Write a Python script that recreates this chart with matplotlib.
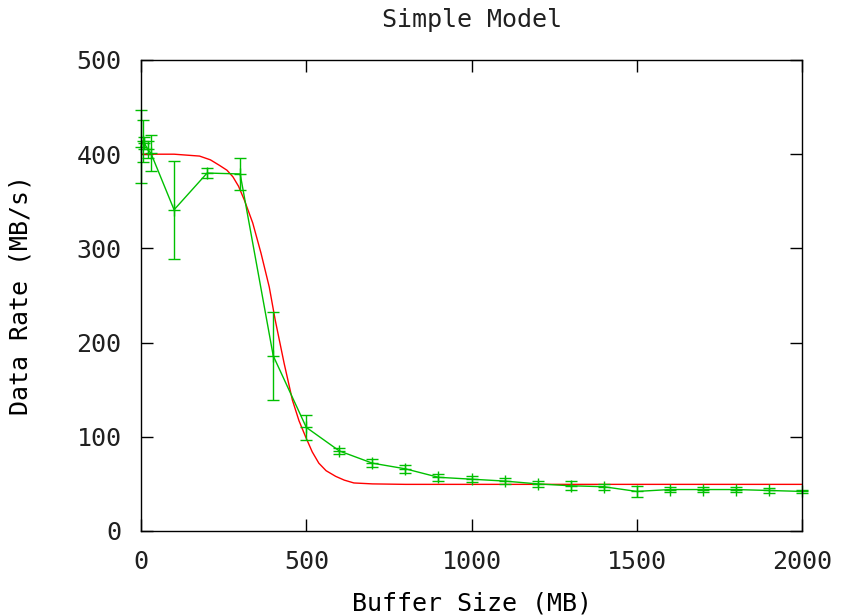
import numpy as np
import matplotlib
matplotlib.use('Agg')
import matplotlib.pyplot as plt

# measured data (green, with error bars)
buf_size = [0, 5, 10, 20, 30, 100, 200, 300, 400, 500, 600, 700, 800, 900,
            1000, 1100, 1200, 1300, 1400, 1500, 1600, 1700, 1800, 1900, 2000]
rate = [408, 414, 412, 405, 401, 341, 380, 379, 186, 110, 85, 72, 66, 57,
        55, 53, 50, 48, 47, 42, 44, 44, 44, 43, 42]
rate_err = [39, 22, 6, 9, 19, 52, 5, 17, 47, 13, 3, 4, 4, 4,
            3, 3, 3, 5, 3, 6, 3, 3, 3, 3, 2]

# model curve (red)
model_x = [0, 100, 177, 210, 238, 260, 278, 295, 313, 338, 363, 388, 406,
           433, 458, 478, 498, 518, 538, 560, 589, 615, 644, 700, 800, 2000]
model_y = [400, 400, 398, 394, 388, 383, 376, 366, 351, 327, 295, 259, 224,
           178, 139, 117, 100, 84, 72, 64, 58, 54, 51, 50, 49.5, 49.5]

plt.rcParams['font.family'] = 'DejaVu Sans Mono'
plt.rcParams['font.size'] = 18
plt.rcParams['text.color'] = '#202020'

fig = plt.figure(figsize=(8.45, 6.16), dpi=100)
ax = fig.add_axes([0.1669, 0.138, 0.7822, 0.7646])

ax.plot(model_x, model_y, color='#ff0000', lw=1.0)
ax.errorbar(buf_size, rate, yerr=rate_err, color='#00c000', lw=1.0,
            elinewidth=1.0, capsize=4.5, capthick=1.0,
            marker='+', markersize=9, markeredgewidth=1.0, clip_on=False)

ax.set_xlim(0, 2000)
ax.set_ylim(0, 500)
ax.set_xticks([0, 500, 1000, 1500, 2000])
ax.set_yticks([0, 100, 200, 300, 400, 500])
ax.tick_params(direction='in', length=8.5, width=1, top=True, right=True,
               pad=14, colors='black', labelcolor='#202020')
for s in ax.spines.values():
    s.set_linewidth(1)

ax.set_title('Simple Model', pad=24, fontsize=18)
ax.set_xlabel('Buffer Size (MB)', labelpad=12)
ax.set_ylabel('Data Rate (MB/s)', labelpad=32)

fig.savefig('out.png', dpi=100)
